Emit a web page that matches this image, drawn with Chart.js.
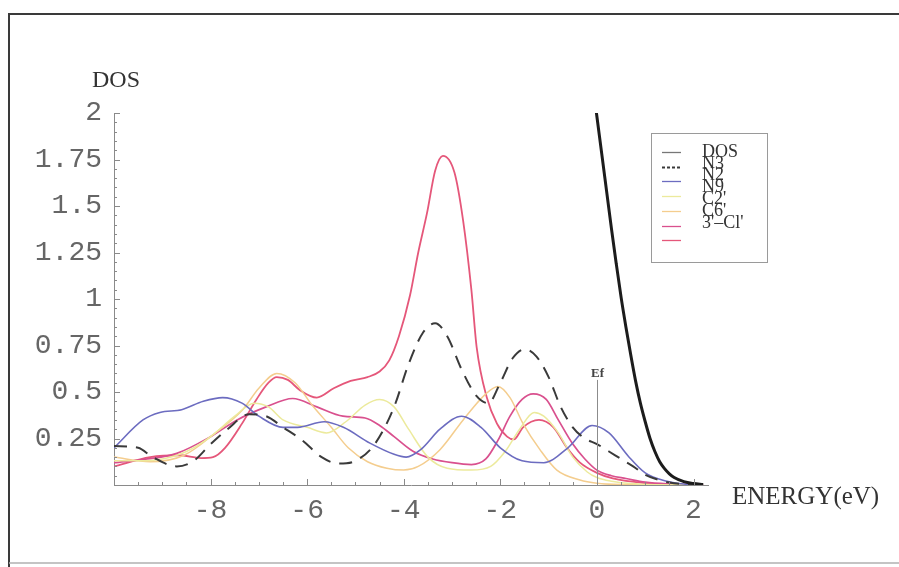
<!DOCTYPE html>
<html>
<head>
<meta charset="utf-8">
<script src="https://cdn.jsdelivr.net/npm/chart.js@4/dist/chart.umd.min.js"></script>
<style>
  html, body { margin: 0; padding: 0; background: #fff; }
  canvas { display: block; }
</style>
</head>
<body>
<canvas id="c" width="899" height="567"></canvas>
<script>
// ---- data ----
const seriesNames = ["DOS", "N3", "N2", "N9", "C2'", "C6'", "3'\u2013Cl'"];

const xTickValues = [-8, -6, -4, -2, 0, 2];
const xTickLabels = ["-8", "-6", "-4", "-2", "0", "2"];
const yTickValues = [0.25, 0.5, 0.75, 1, 1.25, 1.5, 1.75, 2];
const yTickLabels = ["0.25", "0.5", "0.75", "1", "1.25", "1.5", "1.75", "2"];

const dosE = [-0.1, 0, 0.1, 0.2, 0.3, 0.4, 0.5, 0.6, 0.7, 0.8, 0.9, 1.0, 1.1, 1.2, 1.3, 1.4, 1.5, 1.6, 1.8, 2.0, 2.2];
const dosV = [2.18, 1.98, 1.78, 1.58, 1.38, 1.19, 1.01, 0.85, 0.7, 0.56, 0.44, 0.34, 0.25, 0.18, 0.125, 0.088, 0.06, 0.04, 0.018, 0.008, 0.003];

const n3E = [-10, -9.5, -9.2, -8.7, -8.35, -8.0, -7.65, -7.2, -6.85, -6.5, -6.1, -5.7, -5.35, -5.0, -4.6, -4.2, -3.9, -3.6, -3.35, -3.1, -2.8, -2.5, -2.25, -2.0, -1.75, -1.5, -1.25, -1.0, -0.75, -0.5, -0.25, 0, 0.25, 0.5, 0.75, 1.0, 1.25, 1.5, 1.8, 2.2];
const n3V = [0.21, 0.2, 0.15, 0.1, 0.13, 0.22, 0.3, 0.38, 0.37, 0.31, 0.24, 0.15, 0.115, 0.13, 0.22, 0.42, 0.65, 0.82, 0.87, 0.8, 0.62, 0.48, 0.44, 0.55, 0.68, 0.73, 0.69, 0.58, 0.42, 0.31, 0.25, 0.22, 0.18, 0.14, 0.1, 0.055, 0.03, 0.013, 0.004, 0];

const n2E = [-10, -9.4, -9.05, -8.6, -8.15, -7.75, -7.35, -7.0, -6.5, -6.2, -5.65, -5.25, -4.7, -4.2, -3.95, -3.65, -3.25, -2.8, -2.4, -2.0, -1.55, -1.1, -0.6, -0.1, 0.25, 0.65, 1.0, 1.45, 1.8, 2.2];
const n2V = [0.2, 0.35, 0.39, 0.405, 0.45, 0.47, 0.44, 0.37, 0.31, 0.31, 0.34, 0.31, 0.225, 0.165, 0.15, 0.19, 0.3, 0.37, 0.31, 0.2, 0.13, 0.12, 0.2, 0.32, 0.28, 0.155, 0.065, 0.02, 0.005, 0];

const n9E = [-10, -9.5, -9.0, -8.5, -8.0, -7.5, -7.1, -6.8, -6.5, -6.0, -5.6, -5.2, -4.8, -4.5, -4.2, -3.9, -3.5, -3.1, -2.6, -2.2, -1.9, -1.6, -1.3, -1.1, -0.8, -0.5, -0.2, 0, 0.3, 0.7, 1.2, 2.2];
const n9V = [0.13, 0.13, 0.14, 0.18, 0.26, 0.37, 0.44, 0.42, 0.35, 0.31, 0.28, 0.34, 0.43, 0.46, 0.42, 0.3, 0.15, 0.09, 0.08, 0.1, 0.18, 0.3, 0.39, 0.37, 0.28, 0.15, 0.07, 0.04, 0.02, 0.008, 0.002, 0];

const c2E = [-10, -9.25, -8.55, -7.9, -7.35, -7.0, -6.63, -6.25, -5.9, -5.5, -5.15, -4.75, -4.35, -4.0, -3.7, -3.25, -2.77, -2.3, -2.05, -1.8, -1.53, -1.18, -0.83, -0.35, 0, 0.5, 2.2];
const c2V = [0.15, 0.125, 0.16, 0.28, 0.4, 0.52, 0.6, 0.55, 0.43, 0.31, 0.2, 0.125, 0.09, 0.08, 0.1, 0.19, 0.35, 0.49, 0.53, 0.47, 0.33, 0.19, 0.08, 0.027, 0.01, 0.003, 0];

const c6E = [-10, -9.3, -8.7, -8.0, -7.45, -6.85, -6.3, -5.8, -5.26, -4.8, -4.5, -4.2, -3.8, -3.4, -3.0, -2.6, -2.3, -2.05, -1.8, -1.55, -1.32, -1.05, -0.8, -0.5, -0.25, 0, 0.3, 0.6, 1.0, 1.5, 2.2];
const c6V = [0.12, 0.14, 0.17, 0.26, 0.35, 0.42, 0.465, 0.42, 0.37, 0.36, 0.32, 0.26, 0.18, 0.14, 0.12, 0.11, 0.14, 0.24, 0.37, 0.46, 0.49, 0.46, 0.35, 0.22, 0.14, 0.08, 0.05, 0.035, 0.015, 0.005, 0];

const clE = [-10, -9.25, -8.65, -8.2, -7.95, -7.7, -7.35, -7.05, -6.8, -6.63, -6.4, -6.15, -5.8, -5.45, -5.1, -4.75, -4.5, -4.3, -4.1, -3.87, -3.7, -3.52, -3.35, -3.19, -2.95, -2.77, -2.6, -2.49, -2.28, -2.07, -1.86, -1.72, -1.53, -1.2, -0.9, -0.62, -0.35, 0, 0.33, 1.0, 1.6, 2.2];
const clV = [0.1, 0.15, 0.16, 0.145, 0.15, 0.2, 0.33, 0.46, 0.55, 0.58, 0.565, 0.51, 0.47, 0.52, 0.56, 0.58, 0.61, 0.67, 0.8, 1.02, 1.25, 1.46, 1.69, 1.77, 1.68, 1.42, 1.05, 0.74, 0.47, 0.33, 0.26, 0.245, 0.31, 0.35, 0.31, 0.2, 0.12, 0.065, 0.035, 0.01, 0.003, 0];

const efValue = 0;
const efTop = 0.565;

// ---- build ----
function pts(xs, ys) { return xs.map((x, i) => ({ x: x, y: ys[i] })); }

const styles = [
  { color: '#1c1c1c', width: 3, dash: [] },
  { color: '#3a3a3a', width: 2, dash: [13, 9] },
  { color: '#6c6cc0', width: 1.6, dash: [] },
  { color: '#ecea9c', width: 1.5, dash: [] },
  { color: '#f4cd8e', width: 1.5, dash: [] },
  { color: '#d9508e', width: 1.7, dash: [] },
  { color: '#e5577a', width: 1.8, dash: [] }
];
const seriesData = [pts(dosE, dosV), pts(n3E, n3V), pts(n2E, n2V), pts(n9E, n9V), pts(c2E, c2V), pts(c6E, c6V), pts(clE, clV)];

const datasets = seriesNames.map((name, i) => ({
  label: name,
  data: seriesData[i],
  borderColor: styles[i].color,
  borderWidth: styles[i].width,
  borderDash: styles[i].dash,
  pointRadius: 0,
  fill: false,
  cubicInterpolationMode: 'monotone'
}));

const MONO = '"Liberation Mono", "Courier New", monospace';
const SERIF = '"Liberation Serif", "Times New Roman", serif';

const decor = {
  id: 'decor',
  beforeDraw(chart) {
    const c = chart.ctx;
    c.save();
    c.fillStyle = '#fff';
    c.fillRect(0, 0, chart.width, chart.height);
    c.restore();
  },
  afterDraw(chart) {
    const c = chart.ctx;
    const xs = chart.scales.x, ys = chart.scales.y;
    const area = chart.chartArea;
    c.save();
    // outer frame
    c.strokeStyle = '#3a3a3a';
    c.lineWidth = 2;
    c.beginPath();
    c.moveTo(9, 567);
    c.lineTo(9, 14);
    c.lineTo(899, 14);
    c.stroke();
    c.strokeStyle = '#b0b0b0';
    c.lineWidth = 1.5;
    c.beginPath();
    c.moveTo(9, 563);
    c.lineTo(899, 563);
    c.stroke();

    // inward ticks
    c.strokeStyle = '#8a8a8a';
    c.lineWidth = 1;
    c.beginPath();
    for (let k = 0; k <= 40; k++) {
      const v = k * 0.05;
      const py = Math.round(ys.getPixelForValue(v)) + 0.5;
      const len = (k % 5 === 0) ? 6 : 3;
      c.moveTo(area.left, py);
      c.lineTo(area.left + len, py);
    }
    for (let k = -20; k <= 4; k++) {
      const v = k * 0.5;
      const px = Math.round(xs.getPixelForValue(v)) + 0.5;
      const len = (k % 4 === 0) ? 6 : 3;
      c.moveTo(px, area.bottom);
      c.lineTo(px, area.bottom - len);
    }
    c.stroke();

    // Ef marker
    const ex = Math.round(xs.getPixelForValue(efValue)) + 0.5;
    c.strokeStyle = '#8c8c8c';
    c.lineWidth = 1;
    c.beginPath();
    c.moveTo(ex, ys.getPixelForValue(0));
    c.lineTo(ex, ys.getPixelForValue(efTop));
    c.stroke();
    c.fillStyle = '#444';
    c.font = 'bold 13px ' + SERIF;
    c.textAlign = 'center';
    c.textBaseline = 'alphabetic';
    c.fillText('Ef', ex, ys.getPixelForValue(efTop) - 3);

    // axis titles
    c.fillStyle = '#333';
    c.font = '24px ' + SERIF;
    c.textAlign = 'left';
    c.fillText('DOS', 92, 87);
    c.font = '25px ' + SERIF;
    c.fillText('ENERGY(eV)', 732, 504);

    // legend
    c.strokeStyle = '#9a9a9a';
    c.lineWidth = 1;
    c.strokeRect(651.5, 133.5, 116, 129);
    const lineY0 = 152, lineStep = 14.7, textY0 = 152, textStep = 11.8;
    chart.data.datasets.forEach((ds, i) => {
      const ly = Math.round(lineY0 + i * lineStep) + 0.5;
      c.strokeStyle = i === 0 ? '#777' : ds.borderColor;
      c.lineWidth = i === 1 ? 2 : 1.3;
      c.setLineDash(i === 1 ? [3, 2] : []);
      c.beginPath();
      c.moveTo(662, ly);
      c.lineTo(681, ly);
      c.stroke();
      c.setLineDash([]);
      c.fillStyle = '#333';
      c.font = '18px ' + SERIF;
      c.textAlign = 'left';
      c.textBaseline = 'middle';
      c.fillText(ds.label, 702, textY0 + i * textStep);
    });
    c.restore();
  }
};

new Chart(document.getElementById('c'), {
  type: 'line',
  data: { datasets: datasets },
  plugins: [decor],
  options: {
    responsive: false,
    animation: false,
    layout: { padding: { left: 0, right: 191, top: 113, bottom: 0 } },
    plugins: { legend: { display: false }, tooltip: { enabled: false } },
    elements: { point: { radius: 0 }, line: { tension: 0 } },
    scales: {
      x: {
        type: 'linear',
        min: -10,
        max: 2.3,
        afterBuildTicks: (s) => { s.ticks = xTickValues.map(v => ({ value: v })); },
        afterFit: (s) => { s.height = 82; },
        ticks: {
          autoSkip: false,
          maxRotation: 0,
          padding: 9,
          color: '#666',
          font: { family: MONO, size: 28 },
          callback: (v) => { const i = xTickValues.indexOf(v); return i >= 0 ? xTickLabels[i] : ''; }
        },
        grid: { display: true, drawOnChartArea: false, drawTicks: false },
        border: { display: true, color: '#8a8a8a', width: 1 }
      },
      y: {
        type: 'linear',
        min: 0,
        max: 2,
        afterBuildTicks: (s) => { s.ticks = yTickValues.map(v => ({ value: v })); },
        afterFit: (s) => { s.width = 114; },
        ticks: {
          autoSkip: false,
          padding: 12,
          color: '#666',
          font: { family: MONO, size: 28 },
          callback: (v) => { const i = yTickValues.indexOf(v); return i >= 0 ? yTickLabels[i] : ''; }
        },
        grid: { display: true, drawOnChartArea: false, drawTicks: false },
        border: { display: true, color: '#8a8a8a', width: 1 }
      }
    }
  }
});
</script>
</body>
</html>
